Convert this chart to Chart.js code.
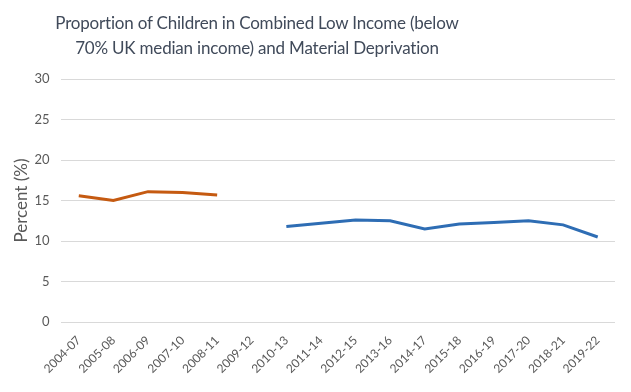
<!DOCTYPE html>
<html>
<head>
<meta charset="utf-8">
<script src="https://cdn.jsdelivr.net/npm/chart.js@4"></script>
<style>
  html, body { margin: 0; padding: 0; background: #fff; }
  #wrap { position: relative; width: 631px; height: 392px; }
  #title {
    position: absolute; left: 0; top: 10px; width: 514px;
    text-align: center; font-family: Lato, "Open Sans", sans-serif;
    font-size: 17px; letter-spacing: -0.2px; line-height: 25px; color: #404a5a;
  }
  canvas { position: absolute; left: 0; top: 0; }
</style>
</head>
<body>
<div id="wrap">
  <canvas id="chart" width="631" height="392"></canvas>
  <div id="title">Proportion of Children in Combined Low Income (below<br>70% UK median income) and Material Deprivation</div>
</div>
<script>
// periods along the x axis
const periods = ["2004-07","2005-08","2006-09","2007-10","2008-11","2009-12","2010-13","2011-14",
                 "2012-15","2013-16","2014-17","2015-18","2016-19","2017-20","2018-21","2019-22"];
// old measure (orange), stops at 2008-11
const oldSeries = [15.6, 15.0, 16.1, 16.0, 15.7, null, null, null, null, null, null, null, null, null, null, null];
// new measure (blue), starts at 2010-13
const newSeries = [null, null, null, null, null, null, 11.8, 12.2, 12.6, 12.5, 11.5, 12.1, 12.3, 12.5, 12.0, 10.5];
const yTicks = [0, 5, 10, 15, 20, 25, 30];

new Chart("chart", {
  type: "line",
  data: {
    labels: periods,
    datasets: [
      {
        label: "Old",
        data: oldSeries,
        borderColor: "#c55a11",
        borderWidth: 3,
        pointRadius: 0,
        spanGaps: false,
        fill: false
      },
      {
        label: "New",
        data: newSeries,
        borderColor: "#2e6db4",
        borderWidth: 3,
        pointRadius: 0,
        spanGaps: false,
        fill: false
      }
    ]
  },
  options: {
    responsive: false,
    animation: false,
    layout: { padding: { top: 79, right: 16, left: 4, bottom: 13 } },
    plugins: {
      legend: { display: false },
      title: { display: false },
      tooltip: { enabled: false }
    },
    scales: {
      x: {
        offset: true,
        grid: { display: false },
        border: { display: false },
        ticks: {
          minRotation: 45, maxRotation: 45, autoSkip: false,
          color: "#595959",
          font: { family: "Lato, 'Open Sans', sans-serif", size: 12 }
        }
      },
      y: {
        min: 0, max: 30,
        afterBuildTicks: (axis) => { axis.ticks = yTicks.map(v => ({ value: v })); },
        grid: { color: "#d9d9d9", lineWidth: 1, drawTicks: false },
        border: { display: false },
        ticks: {
          padding: 12,
          color: "#595959",
          font: { family: "Lato, 'Open Sans', sans-serif", size: 13 }
        },
        title: {
          display: true, text: "Percent (%)", color: "#595959",
          padding: { top: 7, bottom: -9 },
          font: { family: "Lato, 'Open Sans', sans-serif", size: 17 }
        }
      }
    }
  }
});
</script>
</body>
</html>
